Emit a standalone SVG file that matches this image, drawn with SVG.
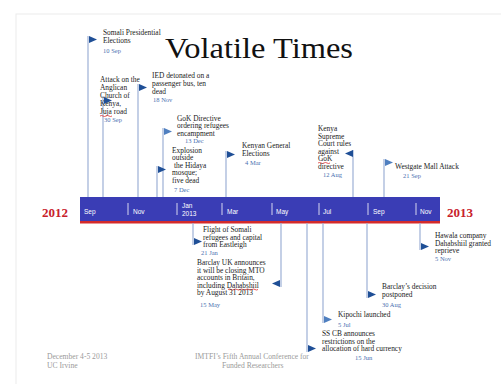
<svg xmlns="http://www.w3.org/2000/svg" width="501" height="384" viewBox="0 0 501 384">
<style>
.ev{font-family:"Liberation Serif",serif;font-size:7.4px;fill:#222}
.dt{font-family:"Liberation Serif",serif;font-size:6.5px;fill:#4a6fb0}
.pole{stroke:#9db0d6;stroke-width:1.2;fill:none}
.flag{fill:#1f4f96}
.flag2{fill:#4f7fc0}
.mon{font-family:"Liberation Sans",sans-serif;font-size:6.5px;fill:#fff}
.yr{font-family:"Liberation Serif",serif;font-size:13px;font-weight:bold;fill:#c8202a}
.ft{font-family:"Liberation Serif",serif;font-size:7.6px;fill:#9a9a9a}
.sq{stroke:#e03030;stroke-width:0.8;fill:none}
.tick{stroke:#fff;stroke-width:0.8}
</style>
<defs>
<path id="fr" d="M0,0 L8,3.5 L0,7 Z"/>
<path id="fl" d="M0,0 L-8,3.5 L0,7 Z"/>
</defs>
<rect width="501" height="384" fill="#fff"/>
<rect x="16" y="14" width="490" height="380" fill="none" stroke="#ececec" stroke-width="1"/>

<g id="title"><text x="165" y="58" font-family="Liberation Serif,serif" font-size="29" fill="#111" textLength="188" lengthAdjust="spacingAndGlyphs">Volatile Times</text></g>

<g id="timeline">
<rect x="80" y="197" width="360" height="24" fill="#3a3db5"/>
<rect x="80" y="221" width="360" height="2.5" fill="#d42a2a"/>
<line class="tick" x1="128" y1="203" x2="128" y2="215"/>
<line class="tick" x1="177" y1="203" x2="177" y2="215"/>
<line class="tick" x1="222" y1="203" x2="222" y2="215"/>
<line class="tick" x1="272" y1="203" x2="272" y2="215"/>
<line class="tick" x1="319" y1="203" x2="319" y2="215"/>
<line class="tick" x1="368" y1="203" x2="368" y2="215"/>
<line class="tick" x1="416" y1="203" x2="416" y2="215"/>
<text class="mon" x="84" y="214">Sep</text>
<text class="mon" x="133" y="214">Nov</text>
<text class="mon" x="182" y="208">Jan</text>
<text class="mon" x="182" y="216">2013</text>
<text class="mon" x="227" y="214">Mar</text>
<text class="mon" x="276" y="214">May</text>
<text class="mon" x="323" y="214">Jul</text>
<text class="mon" x="373" y="214">Sep</text>
<text class="mon" x="420" y="214">Nov</text>
<text class="yr" x="42" y="217">2012</text>
<text class="yr" x="447" y="217">2013</text>
</g>

<g id="connectors">
<line class="pole" x1="88" y1="36" x2="88" y2="197"/>
<line class="pole" x1="103" y1="96" x2="103" y2="197"/>
<line class="pole" x1="138" y1="84" x2="138" y2="197"/>
<line class="pole" x1="163" y1="128" x2="163" y2="197"/>
<line class="pole" x1="157" y1="166" x2="157" y2="197"/>
<line class="pole" x1="226" y1="151" x2="226" y2="197"/>
<line class="pole" x1="353" y1="150" x2="353" y2="197"/>
<line class="pole" x1="384" y1="159" x2="384" y2="197"/>
<line class="pole" x1="193" y1="223" x2="193" y2="245"/>
<line class="pole" x1="281" y1="223" x2="281" y2="287"/>
<line class="pole" x1="307" y1="223" x2="307" y2="352"/>
<line class="pole" x1="323" y1="223" x2="323" y2="323"/>
<line class="pole" x1="367" y1="223" x2="367" y2="298"/>
<line class="pole" x1="420" y1="223" x2="420" y2="250"/>
</g>

<g id="somali">
<use href="#fr" class="flag" x="89" y="36"/>
<text class="ev" x="103" y="35">Somali Presidential</text>
<text class="ev" x="103" y="43">Elections</text>
<text class="dt" x="103" y="53">10 Sep</text>
</g>

<g id="attack">
<text class="ev" x="100" y="82">Attack on the</text>
<text class="ev" x="100" y="90">Anglican</text>
<text class="ev" x="100" y="98">Church of</text>
<text class="ev" x="100" y="106">Kenya,</text>
<text class="ev" x="100" y="114">Juja road</text>
<path class="sq" d="M100,116 q1.5,-1 3,0 t3,0 t3,0 t3,0"/>
<use href="#fr" class="flag" x="104" y="97"/>
<text class="dt" x="104" y="122">30 Sep</text>
</g>

<g id="ied">
<use href="#fr" class="flag" x="139" y="84"/>
<text class="ev" x="152" y="78">IED detonated on a</text>
<text class="ev" x="152" y="86">passenger bus, ten</text>
<text class="ev" x="152" y="94">dead</text>
<text class="dt" x="153" y="102">18 Nov</text>
</g>

<g id="gok">
<use href="#fr" class="flag2" x="164" y="128"/>
<text class="ev" x="177" y="120.5">GoK Directive</text>
<text class="ev" x="177" y="128">ordering refugees</text>
<text class="ev" x="177" y="135.5">encampment</text>
<text class="dt" x="185" y="143">13 Dec</text>
</g>

<g id="explosion">
<use href="#fr" class="flag" x="158" y="166"/>
<text class="ev" x="172" y="152.5">Explosion</text>
<text class="ev" x="172" y="160">outside</text>
<text class="ev" x="174" y="167.5">the Hidaya</text>
<text class="ev" x="172" y="175">mosque;</text>
<text class="ev" x="172" y="182.5">five dead</text>
<text class="dt" x="174" y="192">7 Dec</text>
</g>

<g id="elections">
<use href="#fr" class="flag" x="227" y="151"/>
<text class="ev" x="242" y="148">Kenyan General</text>
<text class="ev" x="242" y="155.5">Elections</text>
<text class="dt" x="245" y="165">4 Mar</text>
</g>

<g id="supreme">
<use href="#fl" class="flag" x="353" y="150"/>
<text class="ev" x="318" y="131">Kenya</text>
<text class="ev" x="318" y="138.5">Supreme</text>
<text class="ev" x="318" y="146">Court rules</text>
<text class="ev" x="318" y="153.5">against</text>
<text class="ev" x="318" y="161">GoK</text>
<path class="sq" d="M318,163 q1.5,-1 3,0 t3,0 t3,0 t3,0"/>
<text class="ev" x="318" y="168.5">directive</text>
<text class="dt" x="323" y="177">12 Aug</text>
</g>

<g id="westgate">
<use href="#fr" class="flag2" x="385" y="159"/>
<text class="ev" x="395" y="169">Westgate Mall Attack</text>
<text class="dt" x="403" y="178">21 Sep</text>
</g>

<g id="flight">
<use href="#fr" class="flag" x="194" y="238"/>
<text class="ev" x="203" y="232">Flight of Somali</text>
<text class="ev" x="203" y="239.5">refugees and capital</text>
<text class="ev" x="203" y="247">from Eastleigh</text>
<text class="dt" x="201" y="255">21 Jan</text>
</g>

<g id="barclayuk">
<use href="#fl" class="flag" x="280" y="280"/>
<text class="ev" x="197" y="265">Barclay UK announces</text>
<text class="ev" x="197" y="272.5">it will be closing MTO</text>
<text class="ev" x="197" y="280">accounts in Britain,</text>
<text class="ev" x="197" y="287.5">including Dahabshiil</text>
<path class="sq" d="M228,289.5 q1.5,-1 3,0 t3,0 t3,0 t3,0 t3,0 t3,0 t3,0 t3,0 t3,0 t3,0"/>
<text class="ev" x="197" y="295">by August 31 2013</text>
<text class="dt" x="200" y="307">15 May</text>
</g>

<g id="sscb">
<use href="#fr" class="flag" x="308" y="345"/>
<text class="ev" x="322" y="336">SS CB announces</text>
<text class="ev" x="322" y="343.5">restrictions on the</text>
<text class="ev" x="322" y="351">allocation of hard currency</text>
<text class="dt" x="355" y="360">15 Jun</text>
</g>

<g id="kipochi">
<use href="#fr" class="flag2" x="324" y="316"/>
<text class="ev" x="338" y="317">Kipochi launched</text>
<text class="dt" x="338" y="327">5 Jul</text>
</g>

<g id="barclaydecision">
<use href="#fr" class="flag" x="368" y="291"/>
<text class="ev" x="382" y="289">Barclay’s decision</text>
<text class="ev" x="382" y="296.5">postponed</text>
<text class="dt" x="382" y="307">30 Aug</text>
</g>

<g id="hawala">
<use href="#fr" class="flag" x="421" y="243"/>
<text class="ev" x="435" y="238">Hawala company</text>
<text class="ev" x="435" y="245.5">Dahabshiil granted</text>
<text class="ev" x="435" y="253">reprieve</text>
<text class="dt" x="435" y="261">5 Nov</text>
</g>

<g id="footer">
<text class="ft" x="47" y="359">December 4-5 2013</text>
<text class="ft" x="47" y="367.5">UC Irvine</text>
<text class="ft" x="195" y="359">IMTFI’s Fifth Annual Conference for</text>
<text class="ft" x="222" y="367.5">Funded Researchers</text>
</g>
</svg>
